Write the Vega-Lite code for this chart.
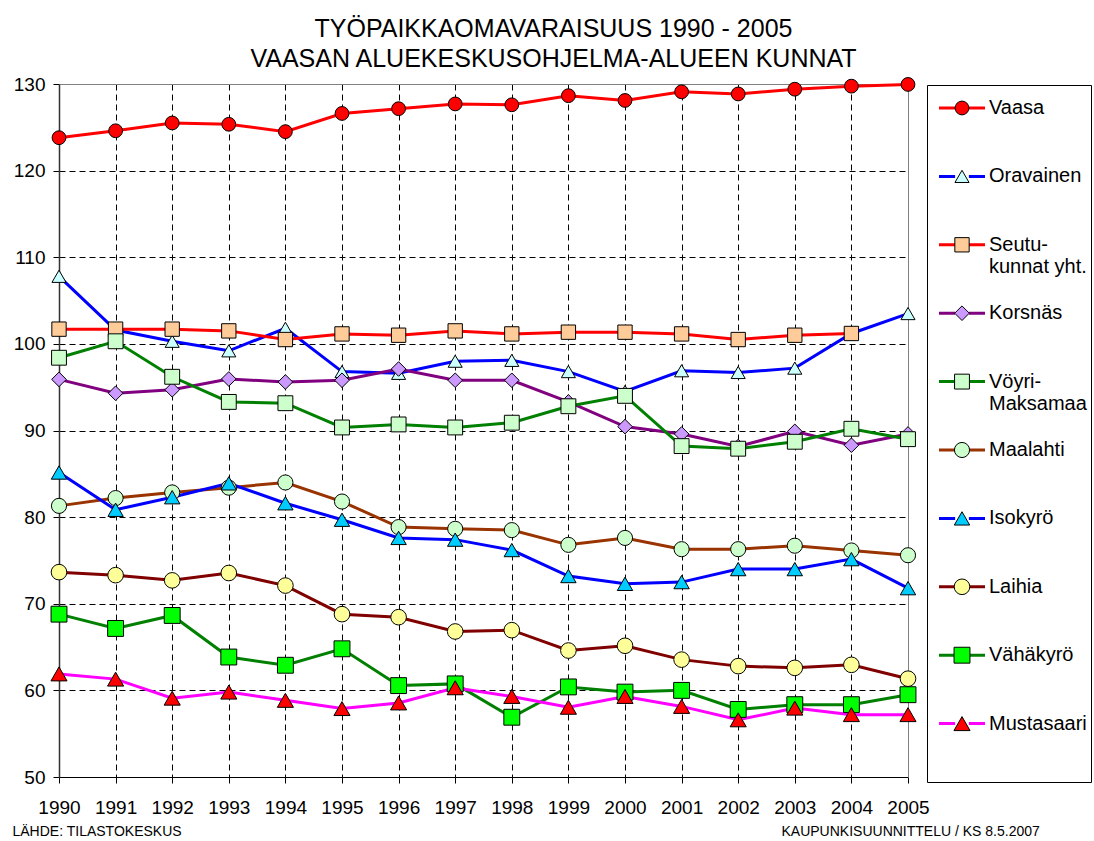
{
  "$schema": "https://vega.github.io/schema/vega-lite/v6.json",
  "width": 849,
  "height": 693,
  "autosize": {"type": "none"},
  "padding": {"left": 59, "top": 84, "right": 186, "bottom": 64},
  "background": "white",
  "title": {
    "text": ["TYÖPAIKKAOMAVARAISUUS 1990 - 2005", "VAASAN ALUEKESKUSOHJELMA-ALUEEN KUNNAT"],
    "font": "Liberation Sans",
    "fontSize": 25,
    "fontWeight": "normal",
    "color": "black",
    "anchor": "middle",
    "frame": "group",
    "dx": 70,
    "offset": 3,
    "lineHeight": 30
  },
  "config": {
    "view": {"stroke": null},
    "font": "Liberation Sans"
  },
  "data": {
    "values": [
      {"year": 1990, "series": "Vaasa", "value": 123.8},
      {"year": 1991, "series": "Vaasa", "value": 124.6},
      {"year": 1992, "series": "Vaasa", "value": 125.5},
      {"year": 1993, "series": "Vaasa", "value": 125.35},
      {"year": 1994, "series": "Vaasa", "value": 124.5},
      {"year": 1995, "series": "Vaasa", "value": 126.6},
      {"year": 1996, "series": "Vaasa", "value": 127.15},
      {"year": 1997, "series": "Vaasa", "value": 127.7},
      {"year": 1998, "series": "Vaasa", "value": 127.6},
      {"year": 1999, "series": "Vaasa", "value": 128.65},
      {"year": 2000, "series": "Vaasa", "value": 128.1},
      {"year": 2001, "series": "Vaasa", "value": 129.1},
      {"year": 2002, "series": "Vaasa", "value": 128.85},
      {"year": 2003, "series": "Vaasa", "value": 129.4},
      {"year": 2004, "series": "Vaasa", "value": 129.75},
      {"year": 2005, "series": "Vaasa", "value": 129.95},
      {"year": 1990, "series": "Oravainen", "value": 107.8},
      {"year": 1991, "series": "Oravainen", "value": 101.6},
      {"year": 1992, "series": "Oravainen", "value": 100.3},
      {"year": 1993, "series": "Oravainen", "value": 99.2},
      {"year": 1994, "series": "Oravainen", "value": 101.8},
      {"year": 1995, "series": "Oravainen", "value": 96.8},
      {"year": 1996, "series": "Oravainen", "value": 96.6},
      {"year": 1997, "series": "Oravainen", "value": 98.0},
      {"year": 1998, "series": "Oravainen", "value": 98.1},
      {"year": 1999, "series": "Oravainen", "value": 96.8},
      {"year": 2000, "series": "Oravainen", "value": 94.5},
      {"year": 2001, "series": "Oravainen", "value": 96.9},
      {"year": 2002, "series": "Oravainen", "value": 96.7},
      {"year": 2003, "series": "Oravainen", "value": 97.2},
      {"year": 2004, "series": "Oravainen", "value": 101.2},
      {"year": 2005, "series": "Oravainen", "value": 103.5},
      {"year": 1990, "series": "Seutukunnat yht.", "value": 101.7},
      {"year": 1991, "series": "Seutukunnat yht.", "value": 101.7},
      {"year": 1992, "series": "Seutukunnat yht.", "value": 101.7},
      {"year": 1993, "series": "Seutukunnat yht.", "value": 101.5},
      {"year": 1994, "series": "Seutukunnat yht.", "value": 100.5},
      {"year": 1995, "series": "Seutukunnat yht.", "value": 101.15},
      {"year": 1996, "series": "Seutukunnat yht.", "value": 101.0},
      {"year": 1997, "series": "Seutukunnat yht.", "value": 101.5},
      {"year": 1998, "series": "Seutukunnat yht.", "value": 101.15},
      {"year": 1999, "series": "Seutukunnat yht.", "value": 101.35},
      {"year": 2000, "series": "Seutukunnat yht.", "value": 101.35},
      {"year": 2001, "series": "Seutukunnat yht.", "value": 101.15},
      {"year": 2002, "series": "Seutukunnat yht.", "value": 100.5},
      {"year": 2003, "series": "Seutukunnat yht.", "value": 101.0},
      {"year": 2004, "series": "Seutukunnat yht.", "value": 101.2},
      {"year": 1990, "series": "Korsnäs", "value": 95.9},
      {"year": 1991, "series": "Korsnäs", "value": 94.3},
      {"year": 1992, "series": "Korsnäs", "value": 94.7},
      {"year": 1993, "series": "Korsnäs", "value": 95.95},
      {"year": 1994, "series": "Korsnäs", "value": 95.6},
      {"year": 1995, "series": "Korsnäs", "value": 95.8},
      {"year": 1996, "series": "Korsnäs", "value": 97.1},
      {"year": 1997, "series": "Korsnäs", "value": 95.8},
      {"year": 1998, "series": "Korsnäs", "value": 95.8},
      {"year": 1999, "series": "Korsnäs", "value": 93.3},
      {"year": 2000, "series": "Korsnäs", "value": 90.45},
      {"year": 2001, "series": "Korsnäs", "value": 89.6},
      {"year": 2002, "series": "Korsnäs", "value": 88.15},
      {"year": 2003, "series": "Korsnäs", "value": 89.9},
      {"year": 2004, "series": "Korsnäs", "value": 88.3},
      {"year": 2005, "series": "Korsnäs", "value": 89.6},
      {"year": 1990, "series": "Vöyri-Maksamaa", "value": 98.4},
      {"year": 1991, "series": "Vöyri-Maksamaa", "value": 100.3},
      {"year": 1992, "series": "Vöyri-Maksamaa", "value": 96.2},
      {"year": 1993, "series": "Vöyri-Maksamaa", "value": 93.3},
      {"year": 1994, "series": "Vöyri-Maksamaa", "value": 93.15},
      {"year": 1995, "series": "Vöyri-Maksamaa", "value": 90.35},
      {"year": 1996, "series": "Vöyri-Maksamaa", "value": 90.7},
      {"year": 1997, "series": "Vöyri-Maksamaa", "value": 90.35},
      {"year": 1998, "series": "Vöyri-Maksamaa", "value": 90.9},
      {"year": 1999, "series": "Vöyri-Maksamaa", "value": 92.8},
      {"year": 2000, "series": "Vöyri-Maksamaa", "value": 94.0},
      {"year": 2001, "series": "Vöyri-Maksamaa", "value": 88.2},
      {"year": 2002, "series": "Vöyri-Maksamaa", "value": 87.9},
      {"year": 2003, "series": "Vöyri-Maksamaa", "value": 88.7},
      {"year": 2004, "series": "Vöyri-Maksamaa", "value": 90.2},
      {"year": 2005, "series": "Vöyri-Maksamaa", "value": 89.0},
      {"year": 1990, "series": "Maalahti", "value": 81.3},
      {"year": 1991, "series": "Maalahti", "value": 82.2},
      {"year": 1992, "series": "Maalahti", "value": 82.85},
      {"year": 1993, "series": "Maalahti", "value": 83.4},
      {"year": 1994, "series": "Maalahti", "value": 84.0},
      {"year": 1995, "series": "Maalahti", "value": 81.8},
      {"year": 1996, "series": "Maalahti", "value": 78.85},
      {"year": 1997, "series": "Maalahti", "value": 78.65},
      {"year": 1998, "series": "Maalahti", "value": 78.5},
      {"year": 1999, "series": "Maalahti", "value": 76.8},
      {"year": 2000, "series": "Maalahti", "value": 77.6},
      {"year": 2001, "series": "Maalahti", "value": 76.3},
      {"year": 2002, "series": "Maalahti", "value": 76.3},
      {"year": 2003, "series": "Maalahti", "value": 76.7},
      {"year": 2004, "series": "Maalahti", "value": 76.15},
      {"year": 2005, "series": "Maalahti", "value": 75.6},
      {"year": 1990, "series": "Isokyrö", "value": 85.15},
      {"year": 1991, "series": "Isokyrö", "value": 80.85},
      {"year": 1992, "series": "Isokyrö", "value": 82.3},
      {"year": 1993, "series": "Isokyrö", "value": 83.9},
      {"year": 1994, "series": "Isokyrö", "value": 81.6},
      {"year": 1995, "series": "Isokyrö", "value": 79.7},
      {"year": 1996, "series": "Isokyrö", "value": 77.6},
      {"year": 1997, "series": "Isokyrö", "value": 77.4},
      {"year": 1998, "series": "Isokyrö", "value": 76.2},
      {"year": 1999, "series": "Isokyrö", "value": 73.2},
      {"year": 2000, "series": "Isokyrö", "value": 72.3},
      {"year": 2001, "series": "Isokyrö", "value": 72.5},
      {"year": 2002, "series": "Isokyrö", "value": 74.0},
      {"year": 2003, "series": "Isokyrö", "value": 74.0},
      {"year": 2004, "series": "Isokyrö", "value": 75.15},
      {"year": 2005, "series": "Isokyrö", "value": 71.8},
      {"year": 1990, "series": "Laihia", "value": 73.65},
      {"year": 1991, "series": "Laihia", "value": 73.3},
      {"year": 1992, "series": "Laihia", "value": 72.7},
      {"year": 1993, "series": "Laihia", "value": 73.55},
      {"year": 1994, "series": "Laihia", "value": 72.1},
      {"year": 1995, "series": "Laihia", "value": 68.8},
      {"year": 1996, "series": "Laihia", "value": 68.45},
      {"year": 1997, "series": "Laihia", "value": 66.8},
      {"year": 1998, "series": "Laihia", "value": 66.95},
      {"year": 1999, "series": "Laihia", "value": 64.6},
      {"year": 2000, "series": "Laihia", "value": 65.15},
      {"year": 2001, "series": "Laihia", "value": 63.55},
      {"year": 2002, "series": "Laihia", "value": 62.8},
      {"year": 2003, "series": "Laihia", "value": 62.6},
      {"year": 2004, "series": "Laihia", "value": 62.95},
      {"year": 2005, "series": "Laihia", "value": 61.35},
      {"year": 1990, "series": "Vähäkyrö", "value": 68.8},
      {"year": 1991, "series": "Vähäkyrö", "value": 67.15},
      {"year": 1992, "series": "Vähäkyrö", "value": 68.65},
      {"year": 1993, "series": "Vähäkyrö", "value": 63.85},
      {"year": 1994, "series": "Vähäkyrö", "value": 62.9},
      {"year": 1995, "series": "Vähäkyrö", "value": 64.8},
      {"year": 1996, "series": "Vähäkyrö", "value": 60.55},
      {"year": 1997, "series": "Vähäkyrö", "value": 60.75},
      {"year": 1998, "series": "Vähäkyrö", "value": 56.9},
      {"year": 1999, "series": "Vähäkyrö", "value": 60.4},
      {"year": 2000, "series": "Vähäkyrö", "value": 59.8},
      {"year": 2001, "series": "Vähäkyrö", "value": 60.0},
      {"year": 2002, "series": "Vähäkyrö", "value": 57.8},
      {"year": 2003, "series": "Vähäkyrö", "value": 58.35},
      {"year": 2004, "series": "Vähäkyrö", "value": 58.35},
      {"year": 2005, "series": "Vähäkyrö", "value": 59.5},
      {"year": 1990, "series": "Mustasaari", "value": 61.9},
      {"year": 1991, "series": "Mustasaari", "value": 61.3},
      {"year": 1992, "series": "Mustasaari", "value": 59.1},
      {"year": 1993, "series": "Mustasaari", "value": 59.8},
      {"year": 1994, "series": "Mustasaari", "value": 58.85},
      {"year": 1995, "series": "Mustasaari", "value": 57.9},
      {"year": 1996, "series": "Mustasaari", "value": 58.55},
      {"year": 1997, "series": "Mustasaari", "value": 60.3},
      {"year": 1998, "series": "Mustasaari", "value": 59.3},
      {"year": 1999, "series": "Mustasaari", "value": 58.05},
      {"year": 2000, "series": "Mustasaari", "value": 59.3},
      {"year": 2001, "series": "Mustasaari", "value": 58.15},
      {"year": 2002, "series": "Mustasaari", "value": 56.6},
      {"year": 2003, "series": "Mustasaari", "value": 57.95},
      {"year": 2004, "series": "Mustasaari", "value": 57.2},
      {"year": 2005, "series": "Mustasaari", "value": 57.2}
    ]
  },
  "layer": [
    {
      "mark": {"type": "line", "strokeWidth": 3},
      "encoding": {
        "x": {
          "field": "year", "type": "quantitative",
          "scale": {"domain": [1990, 2005], "nice": false, "zero": false},
          "axis": {
            "orient": "bottom",
            "values": [1990, 1991, 1992, 1993, 1994, 1995, 1996, 1997, 1998, 1999, 2000, 2001, 2002, 2003, 2004, 2005],
            "format": "d",
            "labelFont": "Liberation Sans", "labelFontSize": 19, "labelFontWeight": "normal", "labelColor": "black",
            "labelFlush": false, "labelOverlap": false, "labelPadding": 15,
            "tickColor": "black", "tickSize": 6, "tickWidth": 1,
            "domainColor": "black", "domainWidth": 1,
            "grid": true, "gridColor": "black", "gridDash": [6, 4], "gridWidth": 1,
            "gridOpacity": {"condition": {"test": "datum.value == 1990 || datum.value == 2005", "value": 0}, "value": 1},
            "title": "LÄHDE: TILASTOKESKUS",
            "titleFont": "Liberation Sans", "titleFontSize": 14, "titleFontWeight": "normal", "titleColor": "black",
            "titleAlign": "left", "titleBaseline": "alphabetic", "titleAnchor": "start",
            "titleX": -47, "titleY": 58
          }
        },
        "y": {
          "field": "value", "type": "quantitative",
          "scale": {"domain": [50, 130], "nice": false, "zero": false},
          "axis": {
            "orient": "left",
            "values": [50, 60, 70, 80, 90, 100, 110, 120, 130],
            "labelFont": "Liberation Sans", "labelFontSize": 19, "labelFontWeight": "normal", "labelColor": "black",
            "labelPadding": 8,
            "tickColor": "black", "tickSize": 6, "tickWidth": 1,
            "domainColor": "#333333", "domainWidth": 1.5,
            "grid": true, "gridColor": "black", "gridDash": [6, 4], "gridWidth": 1,
            "gridOpacity": {"condition": {"test": "datum.value == 50 || datum.value == 130", "value": 0}, "value": 1},
            "title": "KAUPUNKISUUNNITTELU / KS 8.5.2007",
            "titleFont": "Liberation Sans", "titleFontSize": 14, "titleFontWeight": "normal", "titleColor": "black",
            "titleAngle": 0, "titleAlign": "left", "titleBaseline": "alphabetic",
            "titleX": 722, "titleY": 751
          }
        },
        "stroke": {
          "field": "series", "type": "nominal",
          "scale": {
            "domain": ["Isokyrö", "Korsnäs", "Laihia", "Maalahti", "Mustasaari", "Oravainen", "Seutukunnat yht.", "Vaasa", "Vähäkyrö", "Vöyri-Maksamaa"],
            "range": ["#0000FF", "#800080", "#800000", "#993300", "#FF00FF", "#0000FF", "#FF0000", "#FF0000", "#008000", "#008000"]
          },
          "legend": {
            "orient": "none", "legendX": 868, "legendY": 1,
            "direction": "vertical", "columns": 1,
            "title": " ", "titleOrient": "top", "titleFontSize": 5, "titlePadding": 4,
            "values": ["Vaasa", "Oravainen", "Seutukunnat yht.", "Korsnäs", "Vöyri-Maksamaa", "Maalahti", "Isokyrö", "Laihia", "Vähäkyrö", "Mustasaari"],
            "symbolType": "M-3,0H-0.9M0.9,0H3", "symbolSize": 235, "symbolStrokeWidth": 3, "symbolOffset": 21,
            "labelFont": "Liberation Sans", "labelFontSize": 20, "labelColor": "black",
            "labelBaseline": "top", "labelOffset": 17, "labelLimit": 300,
            "labelExpr": "datum.value == 'Seutukunnat yht.' ? ['Seutu-', 'kunnat yht.'] : datum.value == 'Vöyri-Maksamaa' ? ['Vöyri-', 'Maksamaa'] : datum.value == 'Mustasaari' ? ['Mustasaari', '', ''] : datum.label",
            "gridAlign": "all", "rowPadding": 4.4, "padding": 4,
            "strokeColor": "black",
            "encode": {"labels": {"update": {"dy": {"value": -10}}}}
          }
        }
      }
    },
    {
      "mark": {"type": "point", "filled": true, "stroke": "black", "strokeWidth": 1, "opacity": 1},
      "encoding": {
        "x": {
          "field": "year", "type": "quantitative",
          "axis": {"orient": "top", "domainColor": "#808080", "domainWidth": 1, "labels": false, "ticks": false, "grid": false, "title": null}
        },
        "y": {
          "field": "value", "type": "quantitative",
          "axis": {"orient": "right", "domainColor": "#808080", "domainWidth": 1, "labels": false, "ticks": false, "grid": false, "title": null}
        },
        "fill": {
          "field": "series", "type": "nominal",
          "scale": {
            "domain": ["Vaasa", "Oravainen", "Seutukunnat yht.", "Korsnäs", "Vöyri-Maksamaa", "Maalahti", "Isokyrö", "Laihia", "Vähäkyrö", "Mustasaari"],
            "range": ["#FF0000", "#CCFFFF", "#FFCC99", "#CC99FF", "#CCFFCC", "#CCFFCC", "#00CCFF", "#FFFF99", "#00FF00", "#FF0000"]
          },
          "legend": {
            "orient": "none", "legendX": 868, "legendY": 1,
            "direction": "vertical", "columns": 1,
            "title": " ", "titleOrient": "top", "titleFontSize": 5, "titlePadding": 4,
            "symbolStrokeColor": "black", "symbolStrokeWidth": 1, "symbolOpacity": 1, "symbolOffset": 21,
            "labelFont": "Liberation Sans", "labelFontSize": 20, "labelBaseline": "top",
            "labelExpr": "['', '', '']",
            "gridAlign": "all", "rowPadding": 4.4, "padding": 4,
            "encode": {
              "labels": {"update": {"dy": {"value": -10}}},
              "symbols": {"update": {"stroke": {"value": "black"}, "strokeWidth": {"value": 1}, "opacity": {"value": 1}}}
            }
          }
        },
        "shape": {
          "field": "series", "type": "nominal",
          "scale": {
            "domain": ["Vaasa", "Oravainen", "Seutukunnat yht.", "Korsnäs", "Vöyri-Maksamaa", "Maalahti", "Isokyrö", "Laihia", "Vähäkyrö", "Mustasaari"],
            "range": ["circle", "triangle-up", "square", "diamond", "square", "circle", "triangle-up", "circle", "square", "triangle-up"]
          },
          "legend": {
            "orient": "none", "legendX": 868, "legendY": 1,
            "direction": "vertical", "columns": 1,
            "title": " ", "titleOrient": "top", "titleFontSize": 5, "titlePadding": 4,
            "symbolStrokeColor": "black", "symbolStrokeWidth": 1, "symbolOpacity": 1, "symbolOffset": 21,
            "labelFont": "Liberation Sans", "labelFontSize": 20, "labelBaseline": "top",
            "labelExpr": "['', '', '']",
            "gridAlign": "all", "rowPadding": 4.4, "padding": 4,
            "encode": {
              "labels": {"update": {"dy": {"value": -10}}},
              "symbols": {"update": {"stroke": {"value": "black"}, "strokeWidth": {"value": 1}, "opacity": {"value": 1}}}
            }
          }
        },
        "size": {
          "field": "series", "type": "nominal",
          "scale": {
            "domain": ["Vaasa", "Oravainen", "Seutukunnat yht.", "Korsnäs", "Vöyri-Maksamaa", "Maalahti", "Isokyrö", "Laihia", "Vähäkyrö", "Mustasaari"],
            "range": [190, 260, 140, 210, 140, 190, 260, 190, 140, 260]
          },
          "legend": {
            "orient": "none", "legendX": 868, "legendY": 1,
            "direction": "vertical", "columns": 1,
            "title": " ", "titleOrient": "top", "titleFontSize": 5, "titlePadding": 4,
            "symbolStrokeColor": "black", "symbolStrokeWidth": 1, "symbolOpacity": 1, "symbolOffset": 21,
            "labelFont": "Liberation Sans", "labelFontSize": 20, "labelBaseline": "top",
            "labelExpr": "['', '', '']",
            "gridAlign": "all", "rowPadding": 4.4, "padding": 4,
            "encode": {
              "labels": {"update": {"dy": {"value": -10}}},
              "symbols": {"update": {"stroke": {"value": "black"}, "strokeWidth": {"value": 1}, "opacity": {"value": 1}}}
            }
          }
        }
      }
    }
  ],
  "resolve": {"axis": {"x": "independent", "y": "independent"}}
}
